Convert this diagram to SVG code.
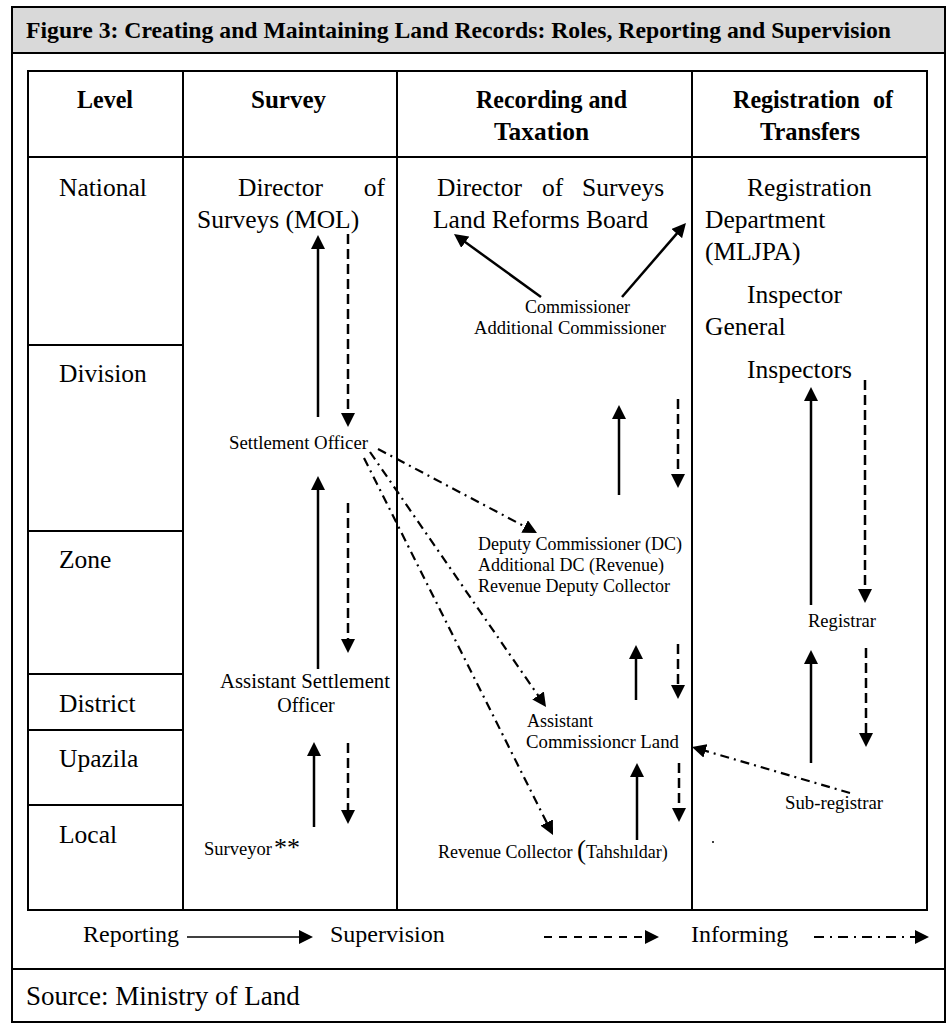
<svg xmlns="http://www.w3.org/2000/svg" width="946" height="1025" viewBox="0 0 946 1025">
<style>
text{font-family:"Liberation Serif","Times New Roman",serif;fill:#000}
.t{font-size:24px;font-weight:bold}
.h{font-size:26px;font-weight:bold}
.b{font-size:25.5px}
.s{font-size:18px}
.m{font-size:20px}
.lg{font-size:24px}
.src{font-size:27px}
.frame{fill:none;stroke:#000;stroke-width:2}
.grid{stroke:#000;stroke-width:2;fill:none}
.sol{stroke:#000;stroke-width:2.5;fill:none;marker-end:url(#ah)}
.dsh{stroke:#000;stroke-width:2.5;fill:none;stroke-dasharray:10 5;marker-end:url(#ah)}
.dd{stroke:#000;stroke-width:2.2;fill:none;stroke-dasharray:9 5 2 5;marker-end:url(#ah)}
.lsol{stroke:#000;stroke-width:1.6;fill:none;marker-end:url(#ah)}
.ldsh{stroke:#000;stroke-width:2;fill:none;stroke-dasharray:8 7;marker-end:url(#ah)}
.ldd{stroke:#000;stroke-width:2;fill:none;stroke-dasharray:10 6 2 6;marker-end:url(#ah)}
</style>
<defs>
<marker id="ah" markerUnits="userSpaceOnUse" markerWidth="14" markerHeight="14" viewBox="0 0 14 14" refX="2" refY="7" orient="auto">
<path d="M0,0 L14,7 L0,14 z" fill="#000"/>
</marker>
</defs>

<g id="frame">
<rect x="12" y="7" width="933" height="1015" class="frame"/>
<rect x="12" y="7" width="933" height="46" fill="#d9d9d9" stroke="#000" stroke-width="2"/>
<line x1="12" y1="969" x2="945" y2="969" class="grid"/>
<text class="t" x="26" y="38" textLength="865" lengthAdjust="spacingAndGlyphs">Figure 3: Creating and Maintaining Land Records: Roles, Reporting and Supervision</text>
</g>

<g id="table">
<rect x="28" y="71" width="899" height="839" class="grid"/>
<line x1="28" y1="157" x2="927" y2="157" class="grid"/>
<line x1="183" y1="71" x2="183" y2="910" class="grid"/>
<line x1="397" y1="71" x2="397" y2="910" class="grid"/>
<line x1="692" y1="71" x2="692" y2="910" class="grid"/>
<line x1="28" y1="345" x2="183" y2="345" class="grid"/>
<line x1="28" y1="531" x2="183" y2="531" class="grid"/>
<line x1="28" y1="674" x2="183" y2="674" class="grid"/>
<line x1="28" y1="730" x2="183" y2="730" class="grid"/>
<line x1="28" y1="805" x2="183" y2="805" class="grid"/>
<text class="h" x="77" y="108" textLength="56" lengthAdjust="spacingAndGlyphs">Level</text>
<text class="h" x="251" y="108" textLength="75" lengthAdjust="spacingAndGlyphs">Survey</text>
<text class="h" x="476" y="108" textLength="151" lengthAdjust="spacingAndGlyphs">Recording and</text>
<text class="h" x="494" y="140" textLength="95" lengthAdjust="spacingAndGlyphs">Taxation</text>
<text class="h" x="733" y="108" textLength="127" lengthAdjust="spacingAndGlyphs">Registration</text>
<text class="h" x="873" y="108" textLength="20" lengthAdjust="spacingAndGlyphs">of</text>
<text class="h" x="760" y="140" textLength="100" lengthAdjust="spacingAndGlyphs">Transfers</text>
</g>

<g id="levels">
<text class="b" x="59" y="196">National</text>
<text class="b" x="59" y="382">Division</text>
<text class="b" x="59" y="568">Zone</text>
<text class="b" x="59" y="712">District</text>
<text class="b" x="59" y="767">Upazila</text>
<text class="b" x="59" y="843">Local</text>
</g>

<g id="director-surveys-mol">
<text class="b" x="238" y="196">Director</text>
<text class="b" x="385" y="196" text-anchor="end">of</text>
<text class="b" x="197" y="228">Surveys (MOL)</text>
</g>
<g id="settlement-officer">
<text class="s" x="229" y="449" textLength="139" lengthAdjust="spacingAndGlyphs">Settlement Officer</text>
</g>
<g id="assistant-settlement-officer">
<text class="m" x="220" y="688" textLength="170" lengthAdjust="spacingAndGlyphs">Assistant Settlement</text>
<text class="m" x="306" y="712" text-anchor="middle">Officer</text>
</g>
<g id="surveyor">
<text class="s" x="204" y="855" textLength="68" lengthAdjust="spacingAndGlyphs">Surveyor</text>
<text x="274" y="856" font-size="26">**</text>
</g>

<g id="director-lrb">
<text class="b" x="437" y="196">Director</text>
<text class="b" x="542" y="196">of</text>
<text class="b" x="582" y="196">Surveys</text>
<text class="b" x="433" y="228">Land Reforms Board</text>
</g>
<g id="commissioner">
<text class="s" x="525" y="313">Commissioner</text>
<text class="s" x="474" y="334" textLength="192" lengthAdjust="spacingAndGlyphs">Additional Commissioner</text>
</g>
<g id="deputy-commissioner">
<text class="s" x="478" y="550" textLength="204" lengthAdjust="spacingAndGlyphs">Deputy Commissioner (DC)</text>
<text class="s" x="478" y="571">Additional DC (Revenue)</text>
<text class="s" x="478" y="592">Revenue Deputy Collector</text>
</g>
<g id="ac-land">
<text class="s" x="527" y="727">Assistant</text>
<text class="s" x="526" y="748" textLength="153" lengthAdjust="spacingAndGlyphs">Commissioncr Land</text>
</g>
<g id="revenue-collector">
<text class="s" x="438" y="858">Revenue Collector <tspan font-size="27" dy="1">(</tspan><tspan dy="-1">Tahshıldar)</tspan></text>
</g>

<g id="registration-department">
<text class="b" x="747" y="196">Registration</text>
<text class="b" x="705" y="228">Department</text>
<text class="b" x="705" y="260">(MLJPA)</text>
</g>
<g id="inspector-general">
<text class="b" x="747" y="303">Inspector</text>
<text class="b" x="705" y="335">General</text>
</g>
<g id="inspectors">
<text class="b" x="747" y="378">Inspectors</text>
</g>
<g id="registrar">
<text class="s" x="808" y="627" textLength="68" lengthAdjust="spacingAndGlyphs">Registrar</text>
</g>
<g id="sub-registrar">
<text class="s" x="785" y="809" textLength="98" lengthAdjust="spacingAndGlyphs">Sub-registrar</text>
</g>
<circle cx="713" cy="842" r="1" fill="#000"/>

<g id="connectors">
<line x1="318" y1="417" x2="318" y2="247" class="sol"/>
<line x1="318" y1="669" x2="318" y2="488" class="sol"/>
<line x1="314" y1="827" x2="314" y2="754" class="sol"/>
<line x1="619" y1="495" x2="619" y2="417" class="sol"/>
<line x1="636" y1="700" x2="636" y2="657" class="sol"/>
<line x1="637" y1="840" x2="637" y2="775" class="sol"/>
<line x1="811" y1="605" x2="811" y2="399" class="sol"/>
<line x1="811" y1="763" x2="811" y2="662" class="sol"/>
<line x1="541" y1="297" x2="463.7" y2="241" class="sol"/>
<line x1="622" y1="297" x2="678.1" y2="232.1" class="sol"/>

<line x1="348" y1="234" x2="348" y2="415" class="dsh"/>
<line x1="348" y1="503" x2="348" y2="641" class="dsh"/>
<line x1="348" y1="743" x2="348" y2="812" class="dsh"/>
<line x1="678" y1="399" x2="678" y2="476" class="dsh"/>
<line x1="678" y1="644" x2="678" y2="687" class="dsh"/>
<line x1="679" y1="763" x2="679" y2="810" class="dsh"/>
<line x1="865" y1="380" x2="865" y2="591" class="dsh"/>
<line x1="866" y1="648" x2="866" y2="735" class="dsh"/>

<line x1="378" y1="449" x2="526.4" y2="527.4" class="dd"/>
<line x1="370" y1="452" x2="539.2" y2="697.1" class="dd"/>
<line x1="364" y1="458" x2="547.6" y2="824.3" class="dd"/>
<line x1="850" y1="793" x2="703.5" y2="750.3" class="dd"/>
</g>

<g id="legend">
<text class="lg" x="83" y="942">Reporting</text>
<line x1="187" y1="937" x2="301" y2="937" class="lsol"/>
<text class="lg" x="330" y="942">Supervision</text>
<line x1="544" y1="937" x2="647" y2="937" class="ldsh"/>
<text class="lg" x="691" y="942">Informing</text>
<line x1="814" y1="937" x2="917" y2="937" class="ldd"/>
</g>

<g id="source">
<text class="src" x="26" y="1005">Source: Ministry of Land</text>
</g>
</svg>
